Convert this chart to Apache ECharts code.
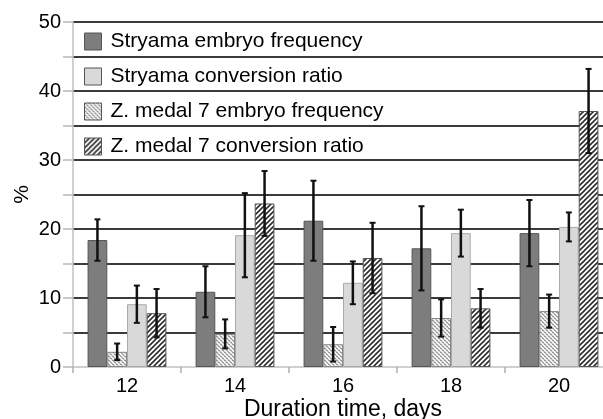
<!DOCTYPE html>
<html>
<head>
<meta charset="utf-8">
<script src="https://cdn.jsdelivr.net/npm/echarts@6/dist/echarts.min.js"></script>
<style>
  html, body { margin: 0; padding: 0; background: #fff; }
  #chart { width: 603px; height: 419px; }
</style>
</head>
<body>
<div id="chart"></div>
<script>
const days = ['12', '14', '16', '18', '20']

// means and half-widths of error bars
const stryamaEmbryo = [18.4, 10.9, 21.2, 17.2, 19.4]
const stryamaEmbryoErr = [3.0, 3.7, 5.8, 6.1, 4.8]
const zmedalEmbryo = [2.2, 4.8, 3.3, 7.1, 8.1]
const zmedalEmbryoErr = [1.2, 2.1, 2.5, 2.7, 2.4]
const stryamaConv = [9.1, 19.1, 12.2, 19.4, 20.3]
const stryamaConvErr = [2.7, 6.1, 3.1, 3.4, 2.1]
const zmedalConv = [7.8, 23.7, 15.8, 8.5, 37.1]
const zmedalConvErr = [3.5, 4.7, 5.1, 2.8, 6.1]

const yTicks = [0, 10, 20, 30, 40, 50]

// fill patterns
function hatchPattern() {
  const c = document.createElement('canvas')
  c.width = 5
  c.height = 5
  const ctx = c.getContext('2d')
  ctx.fillStyle = '#ffffff'
  ctx.fillRect(0, 0, 5, 5)
  ctx.strokeStyle = '#2e2e2e'
  ctx.lineWidth = 1.6
  ctx.beginPath()
  ctx.moveTo(-1, 6); ctx.lineTo(6, -1)
  ctx.moveTo(-1, 1); ctx.lineTo(1, -1)
  ctx.moveTo(4, 6); ctx.lineTo(6, 4)
  ctx.stroke()
  return c
}
function dotPattern() {
  const c = document.createElement('canvas')
  c.width = 4
  c.height = 4
  const ctx = c.getContext('2d')
  ctx.fillStyle = '#f4f4f4'
  ctx.fillRect(0, 0, 4, 4)
  ctx.fillStyle = '#9a9a9a'
  ctx.fillRect(0, 0, 2, 1)
  ctx.fillRect(2, 2, 2, 1)
  ctx.fillStyle = '#bdbdbd'
  ctx.fillRect(1, 1, 1, 1)
  ctx.fillRect(3, 3, 1, 1)
  ctx.fillRect(0, 3, 1, 1)
  ctx.fillRect(2, 1, 1, 1)
  return c
}

const barGapRatio = 0.27
const order = [
  { name: 'Stryama embryo frequency', data: stryamaEmbryo, err: stryamaEmbryoErr, color: '#7d7d7d', border: '#555' },
  { name: 'Z. medal 7 embryo frequency', data: zmedalEmbryo, err: zmedalEmbryoErr, color: { image: dotPattern(), repeat: 'repeat' }, border: '#888' },
  { name: 'Stryama conversion ratio', data: stryamaConv, err: stryamaConvErr, color: '#d9d9d9', border: '#aaa' },
  { name: 'Z. medal 7 conversion ratio', data: zmedalConv, err: zmedalConvErr, color: { image: hatchPattern(), repeat: 'repeat' }, border: '#555' }
]

const series = []
order.forEach(function (s) {
  series.push({
    name: s.name,
    type: 'bar',
    barGap: '0%',
    barCategoryGap: (barGapRatio * 100) + '%',
    data: s.data,
    itemStyle: { color: s.color, borderColor: s.border, borderWidth: 1 },
    emphasis: { disabled: true }
  })
})

order.forEach(function (s, idx) {
  series.push({
    type: 'custom',
    silent: true,
    z: 5,
    data: s.data.map(function (v, i) { return [i, v - s.err[i], v + s.err[i]] }),
    renderItem: function (params, api) {
      const lo = api.coord([api.value(0), api.value(1)])
      const hi = api.coord([api.value(0), api.value(2)])
      const band = api.size([1, 0])[0]
      const bw = band * (1 - barGapRatio) / 4
      const x = lo[0] + bw * (idx - 1.5)
      const cap = 3
      const st = { stroke: '#111', lineWidth: 2.5 }
      return {
        type: 'group',
        children: [
          { type: 'line', shape: { x1: x, y1: lo[1], x2: x, y2: hi[1] }, style: st },
          { type: 'line', shape: { x1: x - cap, y1: lo[1], x2: x + cap, y2: lo[1] }, style: { stroke: '#111', lineWidth: 2 } },
          { type: 'line', shape: { x1: x - cap, y1: hi[1], x2: x + cap, y2: hi[1] }, style: { stroke: '#111', lineWidth: 2 } }
        ]
      }
    }
  })
})

const chart = echarts.init(document.getElementById('chart'), null, { renderer: 'canvas' })
chart.setOption({
  animation: false,
  textStyle: { fontFamily: 'Liberation Sans, Arial, sans-serif' },
  grid: { left: 73, width: 540, top: 22, bottom: 52, outerBoundsMode: 'none', containLabel: false },
  legend: {
    orient: 'vertical',
    left: 84,
    top: 31,
    padding: 0,
    itemWidth: 17,
    itemHeight: 17,
    itemGap: 14,
    selectedMode: false,
    icon: 'rect',
    data: ['Stryama embryo frequency', 'Stryama conversion ratio', 'Z. medal 7 embryo frequency', 'Z. medal 7 conversion ratio'],
    itemStyle: { borderColor: '#555', borderWidth: 1 },
    textStyle: { fontSize: 21, color: '#000', padding: [0, 0, 0, 4] }
  },
  xAxis: {
    type: 'category',
    data: days,
    name: 'Duration time, days',
    nameLocation: 'middle',
    nameGap: 31,
    nameMoveOverlap: false,
    nameTextStyle: { fontSize: 23, color: '#000' },
    axisLine: { lineStyle: { color: '#c0c0c0', width: 1.5 } },
    axisTick: { show: true, length: 6, lineStyle: { color: '#b0b0b0', width: 1.5 } },
    axisLabel: { fontSize: 20, color: '#000', margin: 9 }
  },
  yAxis: {
    type: 'value',
    min: 0,
    max: 50,
    interval: 5,
    name: '%',
    nameLocation: 'middle',
    nameGap: 40,
    nameMoveOverlap: false,
    nameTextStyle: { fontSize: 21, color: '#000' },
    axisLine: { show: true, lineStyle: { color: '#c0c0c0', width: 1.5 } },
    axisTick: { show: true, length: 10, lineStyle: { color: '#b8b8b8', width: 1.5 } },
    axisLabel: {
      fontSize: 20,
      color: '#000',
      margin: 12,
      formatter: function (v) { return yTicks.indexOf(v) >= 0 ? String(v) : '' }
    },
    splitLine: { show: true, showMinLine: false, lineStyle: { color: '#3a3a3a', width: 2 } }
  },
  series: series
})
</script>
</body>
</html>
